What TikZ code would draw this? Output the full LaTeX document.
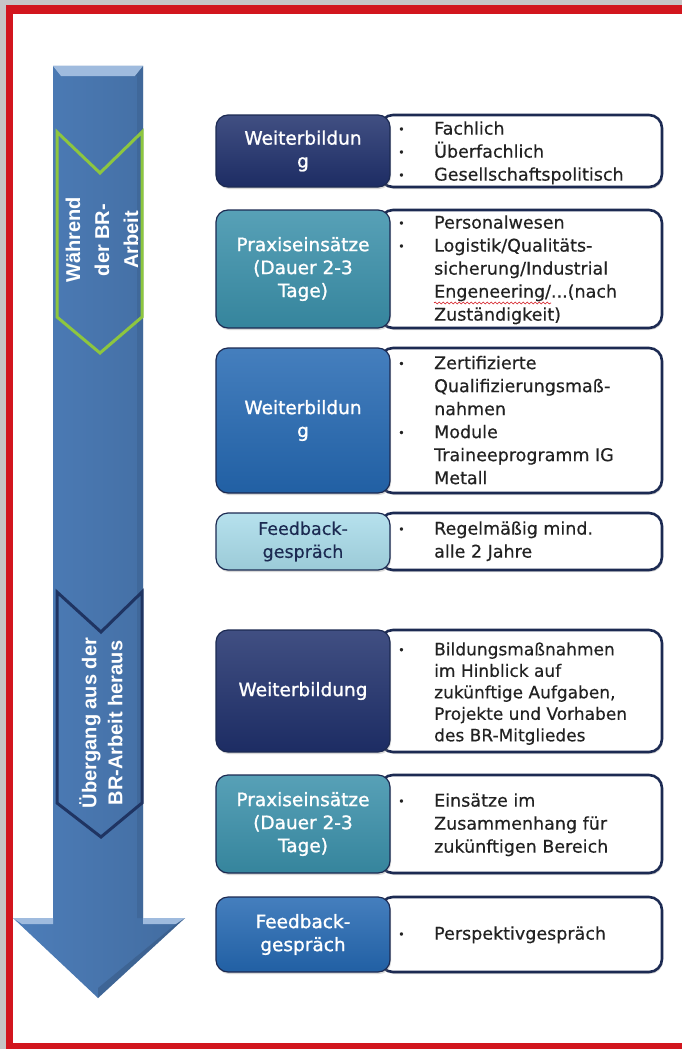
\documentclass[tikz,border=0pt]{standalone}
\usepackage{fontspec}
\setmainfont{DejaVu Sans}
\newfontfamily\chevfont{Liberation Sans}
\newfontfamily\boxfont[FakeBold=1.2]{DejaVu Sans}
\newfontfamily\listfont[FakeBold=0.4]{DejaVu Sans}
\usetikzlibrary{shadows,decorations.pathmorphing}
\definecolor{framered}{HTML}{D2161E}
\definecolor{framegray}{HTML}{C6C6C6}
\definecolor{arrowblue}{HTML}{5184C3}
\definecolor{navyfill}{HTML}{1F306C}
\definecolor{praxteal}{HTML}{3A90AA}
\definecolor{midblue}{HTML}{2468B2}
\definecolor{paleblue}{HTML}{A9DCEA}
\definecolor{chevgreen}{HTML}{8DC63F}
\definecolor{chevnavy}{HTML}{1F3462}
\definecolor{edgenavy}{HTML}{1C2A52}
\definecolor{textgray}{HTML}{222222}
\newcommand\bul{\raisebox{1.5pt}{\fontsize{11}{11}\selectfont\textbullet}}
\tikzset{
  lbox/.style={rounded corners=12pt, minimum width=174pt, draw=edgenavy, line width=1.2pt,
    top color=#1!85!white, middle color=#1, bottom color=#1!92!black,
    align=center, text=white, font=\boxfont\fontsize{18.5}{23}\selectfont,
    drop shadow={shadow xshift=1pt, shadow yshift=-2pt, opacity=0.3}},
  rbox/.style={rounded corners=13pt, minimum width=282pt, draw=edgenavy, line width=2.6pt,
    fill=white, drop shadow={shadow xshift=1pt, shadow yshift=-2pt, opacity=0.3}},
  rtext/.style={anchor=west, inner sep=0pt, text=textgray, font=\listfont\fontsize{17.5}{23}\selectfont},
  chevtext/.style={rotate=90, align=center, text=white, font=\chevfont\bfseries\fontsize{20}{#1}\selectfont}
}
\begin{document}
\begin{tikzpicture}[x=1pt, y=-1pt]
        \useasboundingbox (0,0) rectangle (682,1049);
        \fill [framegray] (0,0) rectangle (682,1049);
        \fill [white] (13,14) rectangle (682,1043);
        \fill [framered] (6,5) rectangle (682,14);
        \fill [framered] (6,5) rectangle (13,1049);
        \fill [framered] (6,1043) rectangle (682,1049);

        \shade [left color=arrowblue!95!black, middle color=arrowblue!90!white, right color=arrowblue!82!black]
          (53,66) -- (143,66) -- (143,918) -- (185,918) -- (98,998) -- (13,918) -- (53,918) -- cycle;
        \fill [arrowblue!55!white] (53,66) -- (143,66) -- (135,76) -- (61,76) -- cycle;
        \fill [arrowblue!70!black, opacity=0.4] (143,66) -- (143,918) -- (137,918) -- (137,76) -- (135,76) -- cycle;
        \fill [arrowblue!55!white] (13,918) -- (53,918) -- (53,924) -- (22,924) -- cycle;
        \fill [arrowblue!55!white] (143,918) -- (185,918) -- (176,924) -- (143,924) -- cycle;
        \fill [arrowblue!60!black, opacity=0.4] (185,918) -- (98,998) -- (98,988) -- (176,924) -- cycle;

        \draw [chevgreen, line width=3pt, line join=miter]
          (57,132) -- (100,173) -- (142,132) -- (142,317) -- (100,353) -- (57,317) -- cycle;
        \draw [chevnavy, line width=3pt, line join=miter]
          (57,592) -- (101,632) -- (142,592) -- (142,803) -- (101,837) -- (57,803) -- cycle;
        \node [chevtext=29] (during) at (102,240) {Während\\der BR-\\Arbeit};
        \node [chevtext=26] (exit) at (101,723) {Übergang aus der\\BR-Arbeit heraus};

        \node [rbox, minimum height=72pt] (r1) at (521,151) {};
        \node [rbox, minimum height=118pt] (r2) at (521,269) {};
        \node [rbox, minimum height=145pt] (r3) at (521,420.5) {};
        \node [rbox, minimum height=57pt] (r4) at (521,541.5) {};
        \node [rbox, minimum height=122pt] (r5) at (521,691) {};
        \node [rbox, minimum height=98pt] (r6) at (521,824) {};
        \node [rbox, minimum height=75pt] (r7) at (521,934.5) {};

        \node [lbox=navyfill, minimum height=72pt] (l1) at (303,151) {Weiterbildun\\g};
        \node [lbox=praxteal, minimum height=118pt] (l2) at (303,269) {Praxiseinsätze\\(Dauer 2-3\\Tage)};
        \node [lbox=midblue, minimum height=145pt] (l3) at (303,420.5) {Weiterbildun\\g};
        \node [lbox=paleblue, minimum height=57pt, text=edgenavy, font=\listfont\fontsize{17.5}{23}\selectfont] (l4) at (303,541.5) {Feedback-\\gespräch};
        \node [lbox=navyfill, minimum height=122pt] (l5) at (303,691) {Weiterbildung};
        \node [lbox=praxteal, minimum height=98pt] (l6) at (303,824) {Praxiseinsätze\\(Dauer 2-3\\Tage)};
        \node [lbox=midblue, minimum height=75pt] (l7) at (303,934.5) {Feedback-\\gespräch};

        \node [rtext] (t1) at (398,153) {\begin{tabular}{@{}p{36pt}@{}l@{}}
          \bul & Fachlich\\ \bul & Überfachlich\\ \bul & Gesellschaftspolitisch\end{tabular}};
        \node [rtext] (t2) at (398,270) {\begin{tabular}{@{}p{36pt}@{}l@{}}
          \bul & Personalwesen\\ \bul & Logistik/Qualitäts-\\ & sicherung/Industrial\\
          & Engeneering/...(nach\\ & Zuständigkeit)\end{tabular}};
        \node [rtext] (t3) at (398,422) {\begin{tabular}{@{}p{36pt}@{}l@{}}
          \bul & Zertifizierte\\ & Qualifizierungsmaß-\\ & nahmen\\
          \bul & Module\\ & Traineeprogramm IG\\ & Metall\end{tabular}};
        \node [rtext] (t4) at (398,541.5) {\begin{tabular}{@{}p{36pt}@{}l@{}}
          \bul & Regelmäßig mind.\\ & alle 2 Jahre\end{tabular}};
        \node [rtext, font=\listfont\fontsize{17}{21.5}\selectfont] (t5) at (398,694) {\begin{tabular}{@{}p{36pt}@{}l@{}}
          \bul & Bildungsmaßnahmen\\ & im Hinblick auf\\ & zukünftige Aufgaben,\\
          & Projekte und Vorhaben\\ & des BR-Mitgliedes\end{tabular}};
        \node [rtext] (t6) at (398,825) {\begin{tabular}{@{}p{36pt}@{}l@{}}
          \bul & Einsätze im\\ & Zusammenhang für\\ & zukünftigen Bereich\end{tabular}};
        \node [rtext] (t7) at (398,935) {\begin{tabular}{@{}p{36pt}@{}l@{}}
          \bul & Perspektivgespräch\end{tabular}};

        \draw [framered, line width=0.6pt, decorate, decoration={snake, amplitude=1pt, segment length=4pt}]
          (434,303) -- (551,303);
\end{tikzpicture}
\end{document}
